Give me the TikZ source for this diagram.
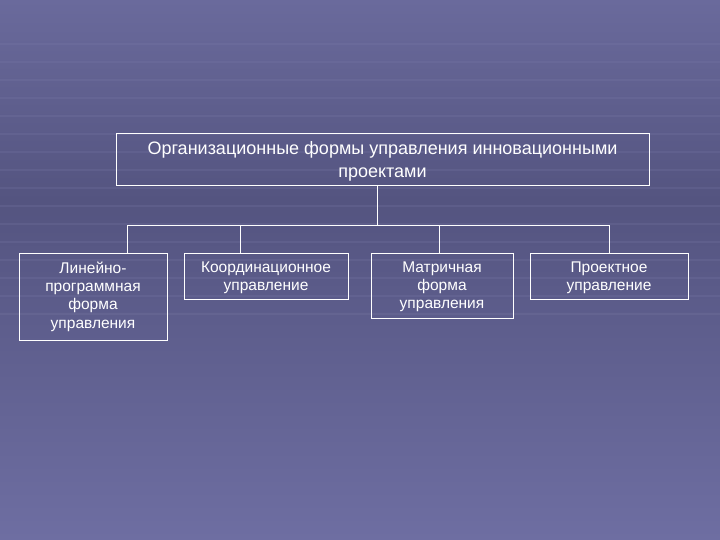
\documentclass[tikz,border=0pt]{standalone}
\usepackage{fontspec}
\setmainfont{Liberation Sans}
\definecolor{bgtop}{RGB}{106,106,156}
\definecolor{bgmid}{RGB}{84,84,128}
\definecolor{bgbot}{RGB}{110,110,162}
\definecolor{gridline}{RGB}{125,125,170}
\tikzset{
  box/.style={draw=white, line width=0.9pt, inner sep=0pt, anchor=north west},
  lbl/.style={text=white, align=center, anchor=north, inner sep=0pt, font=\fontsize{15.5}{18.3}\selectfont},
  conn/.style={draw=white, line width=0.9pt},
}
\begin{document}
\begin{tikzpicture}[x=1pt,y=-1pt]
\useasboundingbox (0,0) rectangle (720,540);
\shade[top color=bgtop, bottom color=bgmid] (0,0) rectangle (720,200);
\shade[top color=bgmid, bottom color=bgbot] (0,200) rectangle (720,540);
% faint background grid
\foreach \yy in {44,62,80,98,116,134,152,170,188,206,224,242,260,278,296,314} {
  \draw[gridline, opacity=0.22, line width=1.2pt] (0,\yy) -- (720,\yy);
}
% nodes
\node[box, minimum width=533pt, minimum height=52pt] (top) at (116,133) {};
\node[lbl, font=\fontsize{18}{23}\selectfont] at (382.5,141) {Организационные формы управления инновационными\\проектами};
\node[box, minimum width=148pt, minimum height=87pt] (b1) at (19,253) {};
\node[lbl] at (93,261.5) {Линейно-\\программная\\форма\\управления};
\node[box, minimum width=164pt, minimum height=46pt] (b2) at (184,253) {};
\node[lbl] at (266,261.5) {Координационное\\управление};
\node[box, minimum width=142pt, minimum height=65pt] (b3) at (371,253) {};
\node[lbl] at (442,261.5) {Матричная\\форма\\управления};
\node[box, minimum width=158pt, minimum height=46pt] (b4) at (530,253) {};
\node[lbl] at (609,261.5) {Проектное\\управление};
% connectors
\coordinate (j) at (377,225);
\draw[conn] (top.south -| j) -- (j);
\draw[conn] (b1.north -| 127,0) |- (j);
\draw[conn] (b4.north -| 609,0) |- (j);
\draw[conn] (b2.north -| 240,0) -- (240,225);
\draw[conn] (b3.north -| 439,0) -- (439,225);
\end{tikzpicture}
\end{document}
